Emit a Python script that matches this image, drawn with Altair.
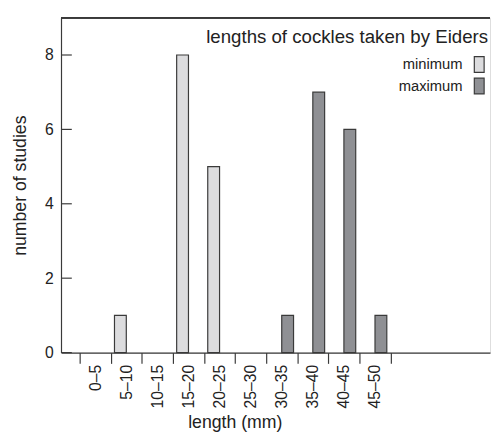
import json
import altair as alt
import pandas as pd

# ---- data ----
bins = ["0–5", "5–10", "10–15", "15–20", "20–25", "25–30", "30–35", "35–40", "40–45", "45–50"]
lower = [0, 5, 10, 15, 20, 25, 30, 35, 40, 45]
minimum = [0, 1, 0, 8, 5, 0, 0, 0, 0, 0]
maximum = [0, 0, 0, 0, 0, 0, 1, 7, 6, 1]
series = ["minimum", "maximum"]
legend_title = "lengths of cockles taken by Eiders"
y_ticks = [0, 2, 4, 6, 8]
edges = lower + [50]
centers = [l + 2.5 for l in lower]

rows = []
for b, lo, mn, mx in zip(bins, lower, minimum, maximum):
    rows.append({"bin": b, "lo": lo, "type": "minimum", "count": mn})
    rows.append({"bin": b, "lo": lo, "type": "maximum", "count": mx})
df = pd.DataFrame(rows)
df = df[df["count"] > 0]

FONT = "Liberation Sans"
TXT = "#222222"
LINE = "#3a3a3a"
W, H = 437, 341

label_expr = "datum.value % 5 == 0 ? '' : " + json.dumps(bins) + "[floor(datum.value / 5)]"

xscale = alt.Scale(domain=[-3, 66], nice=False, zero=False)
yscale = alt.Scale(domain=[0, 9], nice=False)
cscale = alt.Scale(domain=series, range=["#dcdcde", "#8f9094"])

bars = alt.Chart(df).transform_calculate(
    x0="datum.lo + (datum.type == 'minimum' ? 0.6 : 2.5)",
    x1="datum.lo + (datum.type == 'minimum' ? 2.5 : 4.4)",
    base="0",
).mark_rect(stroke=LINE, strokeWidth=1.2).encode(
    x=alt.X("x0:Q", scale=xscale,
            axis=alt.Axis(values=sorted(edges + centers), labelExpr=label_expr,
                          labelAngle=-90, labelFontSize=16, labelFont=FONT,
                          labelColor=TXT, labelPadding=1,
                          tickSize=11, tickColor=LINE, tickWidth=1.2,
                          tickOpacity={"condition": {"test": "datum.value % 5 == 0", "value": 1}, "value": 0},
                          grid=False, domainColor=LINE, domainWidth=1.2,
                          title="length (mm)", titleFontSize=18, titleFont=FONT,
                          titleFontWeight="normal", titleColor=TXT, titleX=177,
                          titlePadding=6, labelOverlap=False)),
    x2="x1:Q",
    y=alt.Y("count:Q", scale=yscale,
            axis=alt.Axis(values=y_ticks, ticks=False, grid=False,
                          labelFontSize=16, labelFont=FONT, labelColor=TXT,
                          labelPadding=8, domainColor=LINE, domainWidth=1.2,
                          title="number of studies", titleFontSize=18, titleFont=FONT,
                          titleFontWeight="normal", titleColor=TXT, titlePadding=15)),
    y2="base:Q",
    color=alt.Color("type:N", scale=cscale, legend=None),
)

tick_df = pd.DataFrame({"v": y_ticks})
yticks = alt.Chart(tick_df).mark_rule(color=LINE, strokeWidth=1.2).encode(
    y=alt.Y("v:Q", scale=yscale), x=alt.value(1), x2=alt.value(11)
)

top_line = alt.Chart(tick_df).mark_rule(color=LINE, strokeWidth=1.2).encode(
    y=alt.value(0), x=alt.value(0), x2=alt.value(W)
)

# ---- legend (drawn inside the plot, labels left of the swatches) ----
leg_df = pd.DataFrame({"type": series})
leg_base = alt.Chart(leg_df).transform_window(
    row="row_number()"
).transform_calculate(
    py="25.5 + datum.row * 22", py0="17.5 + datum.row * 22", py1="33.5 + datum.row * 22"
)
leg_sym = leg_base.mark_rect(stroke=LINE, strokeWidth=1.2).encode(
    x=alt.value(421), x2=alt.value(431),
    y=alt.Y("py0:Q", scale=None), y2="py1:Q",
    color=alt.Color("type:N", scale=cscale, legend=None),
)
leg_lab = leg_base.mark_text(align="right", baseline="middle", font=FONT,
                             fontSize=15, color=TXT).encode(
    x=alt.value(409), y=alt.Y("py:Q", scale=None), text="type:N"
)
leg_title = alt.Chart(pd.DataFrame({"t": [legend_title]})).mark_text(
    align="right", baseline="middle", font=FONT, fontSize=19, color=TXT
).encode(x=alt.value(435), y=alt.value(20), text="t:N")

chart = alt.layer(bars, yticks, top_line, leg_sym, leg_lab, leg_title).properties(
    width=W, height=H,
    padding={"left": 4, "top": 5, "right": 0, "bottom": 0},
).configure_view(stroke=None).configure(background="white")

chart.save("out.html", embed_options={"renderer": "svg", "actions": False})
